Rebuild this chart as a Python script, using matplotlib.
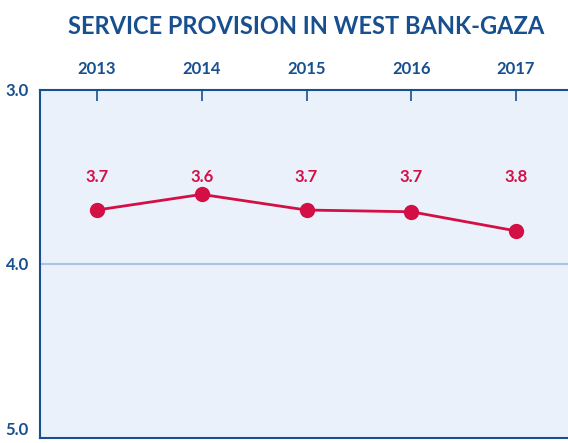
import matplotlib.pyplot as plt

# data
years = [2013, 2014, 2015, 2016, 2017]
scores = [3.69, 3.60, 3.69, 3.70, 3.81]
labels = ["3.7", "3.6", "3.7", "3.7", "3.8"]
yticks = [3.0, 4.0, 5.0]

navy = "#174f8f"
red = "#d30f45"

plt.rcParams['font.family'] = ['Lato', 'DejaVu Sans']

fig = plt.figure(figsize=(5.68, 4.43), dpi=100)
ax = fig.add_axes([0.0704, 0.0113, 0.9296, 0.7856])
ax.set_facecolor("#ebf1fa")

ax.plot(years, scores, color=red, lw=2, marker="o", ms=10, zorder=3)
for x, t in zip(years, labels):
    ax.text(x, 3.5, t, ha="center", va="center", color=red,
            fontsize=12, fontweight="bold")

ax.set_ylim(5.0, 3.0)
ax.set_xlim(2012.457, 2017.495)
ax.set_yticks(yticks)
ax.set_yticklabels(["%.1f" % v for v in yticks])
ax.axhline(4.0, color="#a9c5e6", lw=1.5, zorder=1)

ax.xaxis.tick_top()
ax.set_xticks(years)
ax.tick_params(axis="x", direction="in", length=8, width=1.2, color=navy,
               labelcolor=navy, labelsize=12, pad=9)
ax.tick_params(axis="y", length=0, labelcolor=navy, labelsize=12, pad=8)
for lab in ax.get_xticklabels() + ax.get_yticklabels():
    lab.set_fontweight("bold")
# keep bottom label inside the figure
ax.get_yticklabels()[-1].set_verticalalignment("bottom")

for s in ["left", "top", "bottom"]:
    ax.spines[s].set_color(navy)
    ax.spines[s].set_linewidth(1.5)
ax.spines["right"].set_visible(False)

fig.text(0.539, 0.94, "SERVICE PROVISION IN WEST BANK-GAZA", ha="center",
         va="center", color=navy, fontsize=17, fontweight="bold")

fig.savefig("out.png", dpi=100)
